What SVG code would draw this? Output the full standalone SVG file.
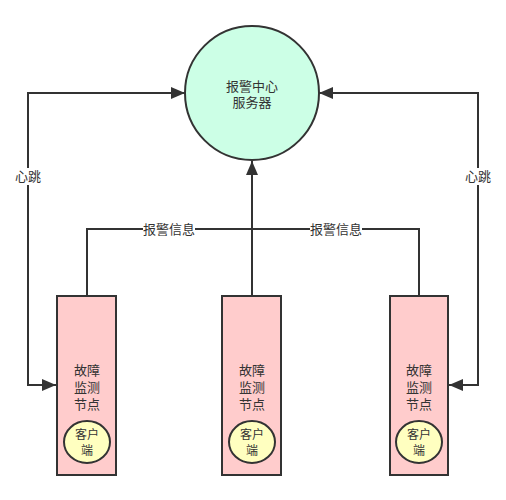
<svg xmlns="http://www.w3.org/2000/svg" width="506" height="500" viewBox="0 0 506 500">
<style>
text{font-family:"Liberation Sans","Noto Sans CJK SC",sans-serif;fill:#333;text-anchor:middle}
.t13{font-size:13px}
.t12{font-size:12px}
.ln{fill:none;stroke:#333;stroke-width:2}
.box{fill:#ffcccc;stroke:#333;stroke-width:2}
.ell{fill:#ffffc0;stroke:#333;stroke-width:2}
.lbl{fill:#fff}
</style>
<defs>
<marker id="arr" markerUnits="userSpaceOnUse" markerWidth="16" markerHeight="12" refX="14" refY="6" orient="auto-start-reverse">
<path d="M0,0 L14,6 L0,12 Z" fill="#333"/>
</marker>
</defs>
<g id="connectors">
<path class="ln" d="M185,93 L28,93 L28,385 L56,385" marker-start="url(#arr)" marker-end="url(#arr)"/>
<path class="ln" d="M319,93 L478,93 L478,385 L449,385" marker-start="url(#arr)" marker-end="url(#arr)"/>
<path class="ln" d="M87,296 L87,229 L252,229"/>
<path class="ln" d="M419,296 L419,229 L252,229"/>
<path class="ln" d="M252,296 L252,161" marker-end="url(#arr)"/>
<rect class="lbl" x="16" y="168" width="24" height="17"/>
<text class="t13" x="28" y="181">心跳</text>
<rect class="lbl" x="466" y="168" width="24" height="17"/>
<text class="t13" x="478" y="181">心跳</text>
<rect class="lbl" x="143" y="221" width="52" height="17"/>
<text class="t13" x="169" y="234">报警信息</text>
<rect class="lbl" x="310" y="221" width="52" height="17"/>
<text class="t13" x="336" y="234">报警信息</text>
</g>
<g id="server">
<circle cx="252" cy="93" r="67" fill="#ccffe6" stroke="#333" stroke-width="2"/>
<text class="t13" x="252" y="91">报警中心</text>
<text class="t13" x="252" y="107">服务器</text>
</g>
<g id="node-left">
<rect class="box" x="57" y="296" width="59" height="179"/>
<text class="t13" x="87" y="375">故障</text>
<text class="t13" x="87" y="392">监测</text>
<text class="t13" x="87" y="409">节点</text>
<ellipse class="ell" cx="87" cy="442" rx="23" ry="21"/>
<text class="t12" x="87" y="439">客户</text>
<text class="t12" x="87" y="455">端</text>
</g>
<g id="node-mid">
<rect class="box" x="222" y="296" width="59" height="179"/>
<text class="t13" x="252" y="375">故障</text>
<text class="t13" x="252" y="392">监测</text>
<text class="t13" x="252" y="409">节点</text>
<ellipse class="ell" cx="252" cy="442" rx="23" ry="21"/>
<text class="t12" x="252" y="439">客户</text>
<text class="t12" x="252" y="455">端</text>
</g>
<g id="node-right">
<rect class="box" x="390" y="296" width="58" height="179"/>
<text class="t13" x="419" y="375">故障</text>
<text class="t13" x="419" y="392">监测</text>
<text class="t13" x="419" y="409">节点</text>
<ellipse class="ell" cx="419" cy="442" rx="23" ry="21"/>
<text class="t12" x="419" y="439">客户</text>
<text class="t12" x="419" y="455">端</text>
</g>
</svg>
